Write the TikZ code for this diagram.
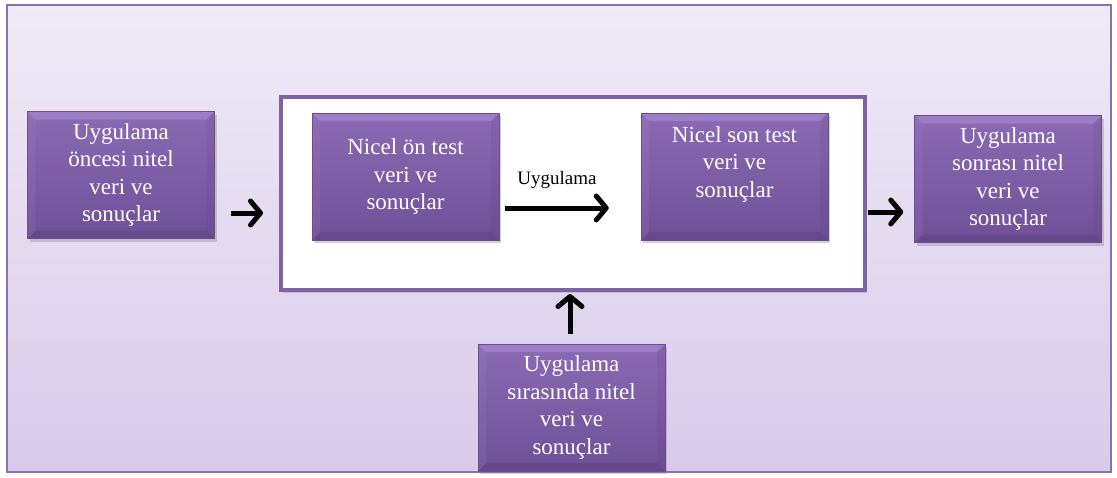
\documentclass[tikz,border=0pt]{standalone}
\usepackage{fontspec}
\setmainfont{Liberation Serif}
\usetikzlibrary{arrows.meta,shadows}
\definecolor{frameline}{HTML}{8A72AE}
\definecolor{bgtop}{HTML}{EFEAF7}
\definecolor{bgbot}{HTML}{D8CAEA}
\definecolor{boxtop}{HTML}{8C6AB5}
\definecolor{boxbot}{HTML}{6F5097}
\definecolor{boxedge}{HTML}{6A4E90}
\definecolor{bevellight}{HTML}{A98BD2}
\definecolor{beveldark}{HTML}{553C7A}
\definecolor{bigline}{HTML}{7E62A2}
\tikzset{
  stepbox/.style={
    rectangle, minimum width=187pt, minimum height=127pt,
    top color=boxtop, bottom color=boxbot, draw=boxedge, line width=0.5pt,
    text=white, align=center, inner sep=0pt,
    font=\fontsize{23}{27.5}\selectfont,
    drop shadow={shadow xshift=2pt, shadow yshift=-3pt, opacity=0.35},
    path picture={
      \fill[bevellight, opacity=0.6]
        (path picture bounding box.north west) --
        (path picture bounding box.north east) --
        ([shift={(-8,8)}]path picture bounding box.north east) --
        ([shift={(8,8)}]path picture bounding box.north west) -- cycle;
      \fill[beveldark, opacity=0.35]
        (path picture bounding box.south west) --
        (path picture bounding box.south east) --
        ([shift={(-8,-8)}]path picture bounding box.south east) --
        ([shift={(8,-8)}]path picture bounding box.south west) -- cycle;
      \fill[bevellight, opacity=0.15]
        (path picture bounding box.north west) --
        ([shift={(8,8)}]path picture bounding box.north west) --
        ([shift={(8,-8)}]path picture bounding box.south west) --
        (path picture bounding box.south west) -- cycle;
      \fill[beveldark, opacity=0.12]
        (path picture bounding box.north east) --
        ([shift={(-8,8)}]path picture bounding box.north east) --
        ([shift={(-8,-8)}]path picture bounding box.south east) --
        (path picture bounding box.south east) -- cycle;
    }
  },
  flowarrow/.style={
    line width=5pt, black,
    -{Straight Barb[length=10pt, width=24pt, round]}
  },
  bigframe/.style={
    rectangle, fill=white, draw=bigline, line width=4pt,
    minimum width=584pt, minimum height=193pt, inner sep=0pt,
    drop shadow={shadow xshift=2pt, shadow yshift=-3pt, opacity=0.3}
  }
}
\begin{document}
\begin{tikzpicture}[x=1pt, y=-1pt]
  \useasboundingbox (0,0) rectangle (1117,477);
  % page background and outer frame
  \fill[white] (0,0) rectangle (1117,477);
  \shade[top color=bgtop, bottom color=bgbot] (7,5) rectangle (1111,472);
  \draw[frameline, line width=1.6pt] (7,5) rectangle (1111,472);

  % central block holding the quantitative phase
  \node[bigframe] (mid) at (573,193.5) {};

  \node[stepbox] (pre) at (121,175) {Uygulama\\öncesi nitel\\veri ve\\sonuçlar};
  \node[stepbox] (ontest) at (405.5,176.5) {Nicel ön test\\veri ve\\sonuçlar};
  \node[stepbox] (sontest) at (734.5,176.5) {Nicel son test\\veri ve\\sonuçlar\\[-6pt]\strut};
  \node[stepbox] (post) at (1008,179) {Uygulama\\sonrası nitel\\veri ve\\sonuçlar};
  \node[stepbox] (during) at (571.5,407.5) {Uygulama\\sırasında nitel\\veri ve\\sonuçlar};

  % connectors
  \draw[flowarrow] ([shift={(16,38)}]pre.east) -- ([shift={(-16,19.5)}]mid.west);
  \draw[flowarrow] ([shift={(6,31.5)}]ontest.east) --
     node[above=14pt, black, font=\fontsize{19}{22}\selectfont] (lbl) {Uygulama}
     ([shift={(-32,31.5)}]sontest.west);
  \draw[flowarrow] ([shift={(1,18.5)}]mid.east) -- ([shift={(-11,33)}]post.west);
  \draw[flowarrow] ([shift={(-1.5,-10)}]during.north) -- ([shift={(-3,2)}]mid.south);
\end{tikzpicture}
\end{document}
